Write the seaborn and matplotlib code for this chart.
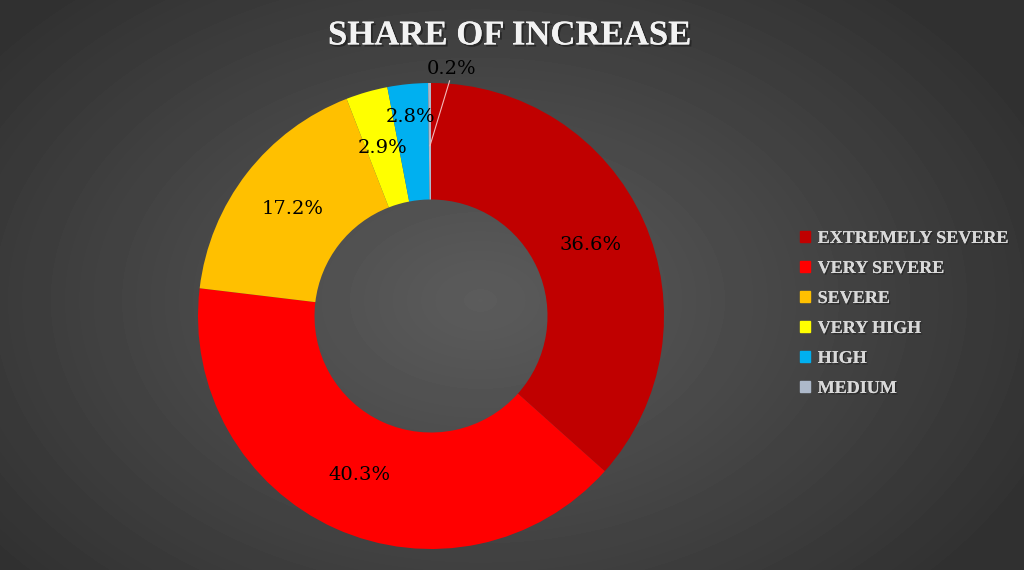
import numpy as np
import matplotlib
matplotlib.use("Agg")
import matplotlib.pyplot as plt
import matplotlib.patheffects as pe
import seaborn as sns

# Data
categories = ["Extremely severe", "Very severe", "Severe", "Very high", "High", "Medium"]
shares = [36.6, 40.3, 17.2, 2.9, 2.8, 0.2]
colors = ["#C00000", "#FF0000", "#FFC000", "#FFFF00", "#00B0F0", "#ADB9CA"]
# label distance from centre (fraction of radius) - last two nudged out
label_dist = [0.75, 0.75, 0.75, 0.75, 0.86, 1.07]

sns.set_style("dark")

fig = plt.figure(figsize=(10.24, 5.7), dpi=100)

# radial gradient background
bg = fig.add_axes([0, 0, 1, 1], zorder=0)
yy, xx = np.mgrid[0:570, 0:1024]
r = np.sqrt(((xx - 480) / 620.0) ** 2 + ((yy - 300) / 420.0) ** 2)
shade = 0.36 - 0.17 * np.clip(r, 0, 1)
bg.imshow(shade, cmap="gray", vmin=0, vmax=1, aspect="auto", extent=[0, 1, 0, 1])
bg.axis("off")

# donut
ax = fig.add_axes([198 / 1024, 21 / 570, 466 / 1024, 466 / 570], zorder=1)
ax.set_facecolor("none")
wedges, _ = ax.pie(shares, colors=colors, startangle=90, counterclock=False,
                   wedgeprops=dict(width=0.5, edgecolor="none"))
ax.set_xlim(-1, 1)
ax.set_ylim(-1, 1)
ax.set_aspect("equal")
ax.axis("off")

for w, val, d in zip(wedges, shares, label_dist):
    ang = np.deg2rad((w.theta1 + w.theta2) / 2)
    if val < 1:
        tx, ty = 0.09, 1.06
        ax.plot([np.cos(ang) * 0.73, tx - 0.01], [np.sin(ang) * 0.73, ty - 0.05],
                color="#F2B8B8", lw=0.8, clip_on=False)
    else:
        tx, ty = np.cos(ang) * d, np.sin(ang) * d
    ax.text(tx, ty, f"{val}%", ha="center", va="center", fontsize=14,
            family="DejaVu Serif", color="black", clip_on=False)

# title
fig.text(0.498, 0.937, "SHARE OF INCREASE", ha="center", va="center",
         fontsize=25, fontweight="bold", family="Liberation Serif", color="#F2F2F2",
         path_effects=[pe.withSimplePatchShadow(offset=(1.5, -1.5), shadow_rgbFace="#222222", alpha=0.8),
                       pe.Normal()])

# legend
handles = [plt.Rectangle((0, 0), 1, 1, color=c) for c in colors]
leg = fig.legend(handles, [c.upper() for c in categories], loc="center left",
                 bbox_to_anchor=(0.765, 0.45), frameon=False, handlelength=0.6,
                 handleheight=0.6, handletextpad=0.4, labelspacing=0.72,
                 prop=dict(family="Liberation Serif", weight="bold", size=13))
for t in leg.get_texts():
    t.set_color("#D9D9D9")
    t.set_path_effects([pe.withSimplePatchShadow(offset=(1, -1), shadow_rgbFace="#222222", alpha=0.7),
                        pe.Normal()])

fig.savefig("out.png", dpi=100)
